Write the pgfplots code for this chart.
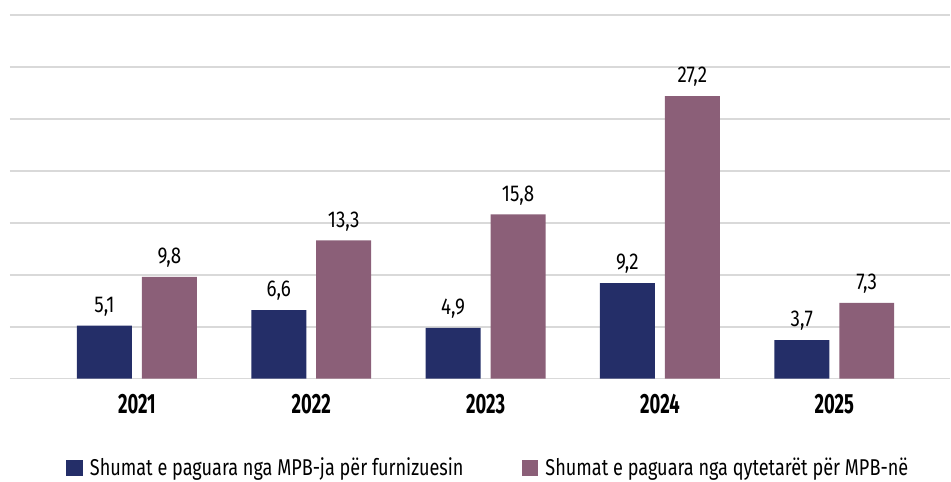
\documentclass[border=0pt]{standalone}
\usepackage{pgfplots}
\pgfplotsset{compat=1.18}
\usepackage{fontspec}
\setmainfont{Fira Sans}[FakeStretch=0.82]
\newfontfamily\labelfont{Fira Sans}[FakeStretch=0.82]
\newfontfamily\yearfont{Fira Sans}[FakeStretch=0.66]
\newfontfamily\legfont{Fira Sans}[FakeStretch=0.79]
\definecolor{navy}{RGB}{36,46,104}
\definecolor{mauve}{RGB}{139,95,120}
\definecolor{gridgray}{RGB}{217,217,217}
\begin{document}
\begin{tikzpicture}
\path (-10bp,-102bp) rectangle (941bp,379bp);
\begin{axis}[
  at={(0,0)}, anchor=south west,
  scale only axis, width=941bp, height=364bp,
  xmin=-0.728, xmax=4.665, ymin=0, ymax=35,
  ybar, bar width=55bp,
  xtick={0,1,2,3,4}, xticklabels={2021,2022,2023,2024,2025},
  xticklabel style={font=\yearfont\fontsize{28}{30}\selectfont\bfseries, yshift=-8bp},
  ytick={0,5,...,35}, yticklabels={},
  ymajorgrids, grid style={gridgray, line width=1.6bp},
  axis line style={draw=none}, major tick style={draw=none},
  nodes near coords,
  every node near coord/.append style={font=\labelfont\fontsize{23}{25}\selectfont, black, yshift=6bp,
    /pgf/number format/.cd, fixed, fixed zerofill, precision=1, use comma, assume math mode=true},
  /pgf/number format/assume math mode=true,
  legend columns=2,
  legend style={at={(0.5085,-0.2445)}, anchor=center, draw=none, fill=none,
    font=\legfont\fontsize{23}{25}\selectfont, column sep=0bp,
    /tikz/every odd column/.append style={column sep=5bp},
    /tikz/every even column/.append style={column sep=56bp}},
  legend image code/.code={\fill[#1] (0bp,-8bp) rectangle (17bp,8bp);},
]
\addplot[fill=navy, draw=none, bar shift=-32.5bp] coordinates {(0,5.1) (1,6.6) (2,4.9) (3,9.2) (4,3.7)};
\addplot[fill=mauve, draw=none, bar shift=32.5bp] coordinates {(0,9.8) (1,13.3) (2,15.8) (3,27.2) (4,7.3)};
\legend{Shumat e paguara nga MPB-ja për furnizuesin, Shumat e paguara nga qytetarët për MPB-në}
\end{axis}
\end{tikzpicture}
\end{document}
